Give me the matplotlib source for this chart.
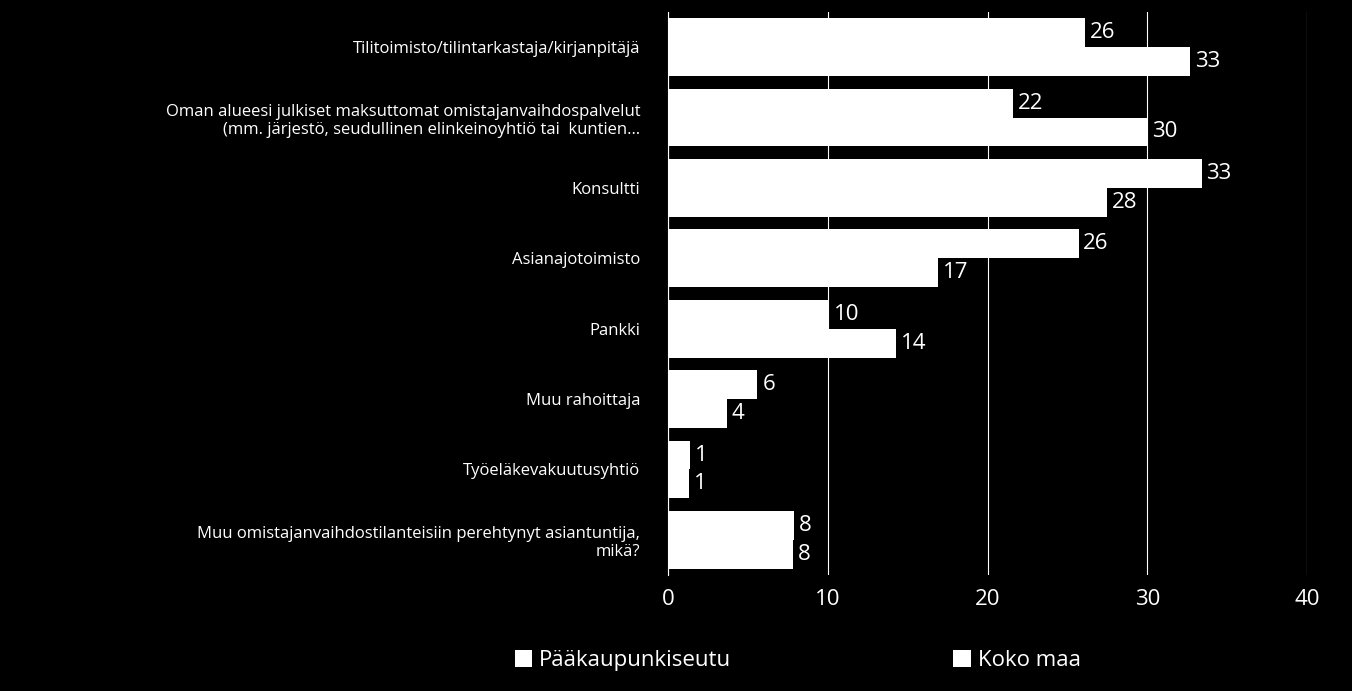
import matplotlib
matplotlib.use("Agg")
import matplotlib.pyplot as plt
from matplotlib.patches import Patch

categories = ["Tilitoimisto/tilintarkastaja/kirjanpitäjä",
              "Oman alueesi julkiset maksuttomat omistajanvaihdospalvelut\n(mm. järjestö, seudullinen elinkeinoyhtiö tai  kuntien…",
              "Konsultti", "Asianajotoimisto", "Pankki", "Muu rahoittaja",
              "Työeläkevakuutusyhtiö",
              "Muu omistajanvaihdostilanteisiin perehtynyt asiantuntija,\nmikä?"]
paakaupunkiseutu = [26.1, 21.6, 33.4, 25.7, 10.1, 5.6, 1.4, 7.9]
koko_maa = [32.7, 30.0, 27.5, 16.9, 14.3, 3.7, 1.3, 7.8]
series_names = ["Pääkaupunkiseutu", "Koko maa"]

plt.rcParams['font.family'] = ['Open Sans', 'DejaVu Sans']
fig = plt.figure(figsize=(13.52, 6.91), dpi=100, facecolor='black')
ax = fig.add_axes([668/1352, 1-575/691, (1307-668)/1352, (575-12)/691], facecolor='black')
h = 0.41
ys = list(range(len(categories)))
for i, (a, b) in enumerate(zip(paakaupunkiseutu, koko_maa)):
    ax.barh(i - h/2, a, height=h, color='white', zorder=3)
    ax.barh(i + h/2, b, height=h, color='white', zorder=3)
    ax.text(a + 0.3, i - h/2, f"{round(a)}", color='white', va='center', ha='left', fontsize=16, zorder=4)
    ax.text(b + 0.3, i + h/2, f"{round(b)}", color='white', va='center', ha='left', fontsize=16, zorder=4)
ax.set_ylim(len(categories) - 0.5, -0.5)
ax.set_xlim(0, 40)
ax.set_xticks([0, 10, 20, 30, 40])
ax.set_yticks(ys)
ax.set_yticklabels(categories, color='white', fontsize=12)
ax.tick_params(axis='x', colors='white', labelsize=16, length=0, pad=10)
ax.tick_params(axis='y', length=0, pad=20)
ax.grid(axis='x', color='white', linewidth=0.8, zorder=0)
for s in ['top', 'right', 'bottom']:
    ax.spines[s].set_visible(False)
ax.spines['left'].set_color('white')
handles = [Patch(facecolor='white'), Patch(facecolor='white')]
fig.legend(handles, series_names, loc='lower center', bbox_to_anchor=(0.59, 0.0), ncol=2,
           frameon=False, fontsize=16, labelcolor='white', columnspacing=10,
           handlelength=0.8, handleheight=0.8, handletextpad=0.3)
fig.savefig("out.png", facecolor='black')
